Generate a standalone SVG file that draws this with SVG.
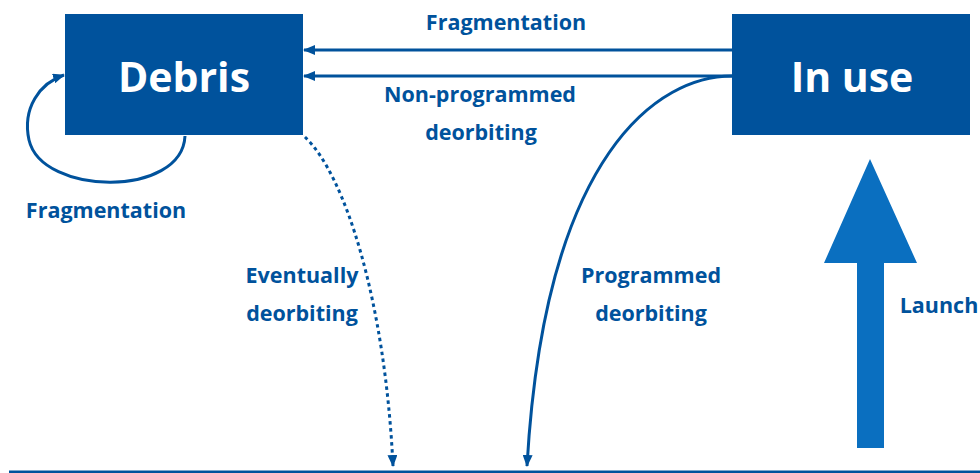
<svg xmlns="http://www.w3.org/2000/svg" width="980" height="473" viewBox="0 0 980 473">
<style>
.box{fill:#00529c}
.nodetxt{font-family:"Open Sans","Liberation Sans",sans-serif;font-weight:bold;font-size:41px;fill:#ffffff;text-anchor:middle}
.lbl{font-family:"Open Sans","Liberation Sans",sans-serif;font-weight:bold;font-size:21.5px;fill:#00529c;text-anchor:middle}
.conn{fill:none;stroke:#00529c;stroke-width:3}
</style>
<defs>
<marker id="ah" viewBox="0 0 12 10" refX="11" refY="5" markerWidth="12" markerHeight="10" markerUnits="userSpaceOnUse" orient="auto">
<path d="M0,0 L12,5 L0,10 Z" fill="#00529c"/>
</marker>
</defs>
<rect x="0" y="0" width="980" height="473" fill="#ffffff"/>
<g id="debris">
<rect class="box" x="65" y="14" width="238" height="121"/>
<text class="nodetxt" x="184" y="92">Debris</text>
</g>
<g id="inuse">
<rect class="box" x="732" y="14" width="238" height="121"/>
<text class="nodetxt" x="852" y="92">In use</text>
</g>
<g id="ground">
<rect x="9" y="470.5" width="971" height="3" fill="#00529c"/>
</g>
<g id="launch">
<polygon points="870,159 917,263 884,263 884,448 857,448 857,263 824,263" fill="#0a6fc0"/>
<text class="lbl" x="939" y="313">Launch</text>
</g>
<g id="connectors">
<path class="conn" d="M732,50 L304,50" marker-end="url(#ah)"/>
<path class="conn" d="M732,76 L304,76" marker-end="url(#ah)"/>
<path class="conn" d="M185,136 C182,198 42,196 29,140 C22,108 40,83 64,75" marker-end="url(#ah)"/>
<path class="conn" d="M305,137 C345,175 385,300 393,466" stroke-width="3.5" stroke-dasharray="3.5,3.5" marker-end="url(#ah)"/>
<path class="conn" d="M732,76 C660,76 545,150 527,466" marker-end="url(#ah)"/>
</g>
<g id="labels">
<text class="lbl" x="506" y="30">Fragmentation</text>
<text class="lbl" x="480" y="102">Non-programmed</text>
<text class="lbl" x="481" y="140">deorbiting</text>
<text class="lbl" x="106" y="218">Fragmentation</text>
<text class="lbl" x="302" y="283">Eventually</text>
<text class="lbl" x="302" y="321">deorbiting</text>
<text class="lbl" x="651" y="283">Programmed</text>
<text class="lbl" x="651" y="321">deorbiting</text>
</g>
</svg>
